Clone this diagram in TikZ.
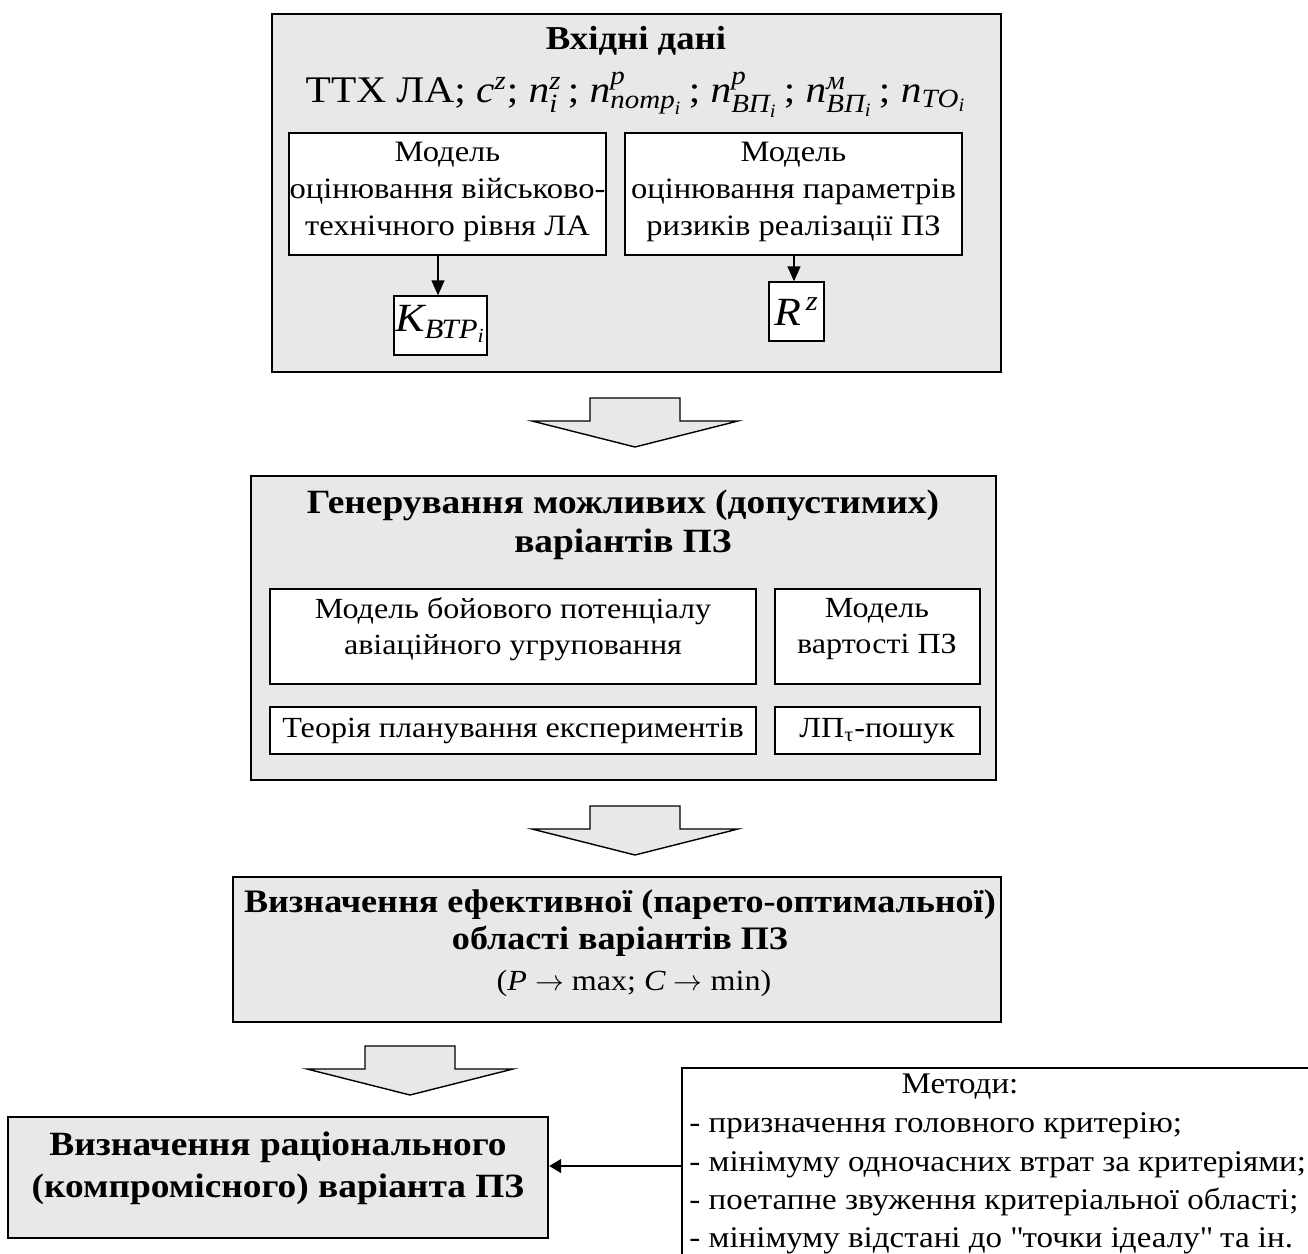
\documentclass[tikz,border=0pt]{standalone}
\usepackage{amsmath}
\usepackage{fontspec}
\setmainfont{Liberation Serif}[FakeStretch=1.1]
\usetikzlibrary{arrows.meta,fit}
\definecolor{boxgray}{RGB}{232,232,232}
\newcommand\ti[1]{\text{\itshape #1}}
\newcommand\blockarrow[2]{%
  \draw[barrow] (#1-45,#2) -- (#1+45,#2) -- (#1+45,#2+23) -- (#1+103,#2+23)
    -- (#1,#2+49) -- (#1-103,#2+23) -- (#1-45,#2+23) -- cycle;}
\begin{document}
\begin{tikzpicture}[x=0.5pt,y=-0.5pt,
  outerbox/.style={draw=black, line width=1.2pt, fill=boxgray, inner sep=0pt},
  innerbox/.style={draw=black, line width=0.7pt, fill=white, inner sep=0pt},
  barrow/.style={draw=black, line width=0.7pt, fill=boxgray, line join=miter},
  btitle/.style={font=\fontsize{17}{20}\selectfont\bfseries, inner sep=0pt, anchor=base},
  bodytext/.style={font=\fontsize{14.8}{18.5}\selectfont, align=center, inner sep=0pt},
  body2/.style={font=\fontsize{14.6}{18.2}\selectfont, align=center, inner sep=0pt},
  methtext/.style={font=\fontsize{15}{19.3}\selectfont, inner sep=0pt},
  conn/.style={-{Triangle[length=7.5pt,width=6.5pt]}, line width=0.7pt}]
\useasboundingbox (0,0) rectangle (1308,1254);

% ---------- top block ----------
\node[outerbox, fit={(272,14) (1001,372)}] (top) {};
\node[btitle, font=\fontsize{16.7}{20}\selectfont\bfseries] (toptitle) at (636,49) {Вхідні дані};
\node[font=\fontsize{18.8}{20}\selectfont, inner sep=0pt, anchor=base] (inputs) at (636,102)
  {ТТХ ЛА; $\ti{c}^{\ti{z}}$; $\ti{n}_{\ti{i}}^{\ti{z}}$\,; $\ti{n}^{\ti{p}}_{\ti{потр}_{\ti{i}}}$\,;
   $\ti{n}^{\ti{p}}_{\ti{ВП}_{\ti{i}}}$\,; $\ti{n}^{\ti{м}}_{\ti{ВП}_{\ti{i}}}$\,; $\ti{n}_{\ti{ТО}_{\ti{i}}}$};
\node[innerbox, fit={(289,133) (606,255)}] (mvtr) {};
\node[bodytext] (mvtrt) at (447.5,192) {Модель\\оцінювання військово-\\технічного рівня ЛА};
\node[innerbox, fit={(625,133) (962,255)}] (mrisk) {};
\node[bodytext] (mriskt) at (793.5,192) {Модель\\оцінювання параметрів\\ризиків реалізації ПЗ};
\node[innerbox, fit={(394,296) (487,355)}] (kbtr) {};
\node[font=\fontsize{20}{22}\selectfont, inner sep=0pt] (kbtrt) at (440.5,324) {$\ti{K}_{\ti{ВТР}_{\ti{i}}}$};
\node[innerbox, fit={(769,282) (824,341)}] (rz) {};
\node[font=\fontsize{20}{22}\selectfont, inner sep=0pt] (rzt) at (796.5,311.5) {$\ti{R}^{\,\ti{z}}$};
\coordinate (a1) at (438,0);
\coordinate (a2) at (794,0);
\draw[conn] (a1 |- mvtr.south) -- (a1 |- kbtr.north);
\draw[conn] (a2 |- mrisk.south) -- (a2 |- rz.north);

\blockarrow{635}{398}

% ---------- generation block ----------
\node[outerbox, fit={(251,476) (996,780)}] (gen) {};
\node[btitle] (gentitle1) at (623,513) {Генерування можливих (допустимих)};
\node[btitle] (gentitle2) at (623,552) {варіантів ПЗ};
\node[innerbox, fit={(270,589) (756,684)}] (mbp) {};
\node[body2] (mbpt) at (513,629) {Модель бойового потенціалу\\авіаційного угруповання};
\node[innerbox, fit={(775,589) (980,684)}] (mvp) {};
\node[body2] (mvpt) at (877,629) {Модель\\вартості ПЗ};
\node[innerbox, fit={(270,707) (756,754)}] (tpe) {};
\node[body2] (tpet) at (513,731) {Теорія планування експериментів};
\node[innerbox, fit={(775,707) (980,754)}] (lpt) {};
\node[body2] (lptt) at (877,731) {ЛП\textsubscript{τ}-пошук};

\blockarrow{635}{806}

% ---------- pareto block ----------
\node[outerbox, fit={(233,877) (1001,1022)}] (par) {};
\node[btitle, font=\fontsize{16.4}{20}\selectfont\bfseries] (partitle1) at (620,912) {Визначення ефективної (парето-оптимальної)};
\node[btitle, font=\fontsize{16.4}{20}\selectfont\bfseries] (partitle2) at (620,949) {області варіантів ПЗ};
\node[font=\fontsize{14.6}{16}\selectfont, inner sep=0pt, anchor=base] (parsub) at (634,990) {(\textit{P} $\rightarrow$ max; \textit{C} $\rightarrow$ min)};

\blockarrow{410}{1046}

% ---------- rational block ----------
\node[outerbox, fit={(8,1117) (548,1238)}] (rat) {};
\node[btitle] (rattitle1) at (278,1155) {Визначення раціонального};
\node[btitle] (rattitle2) at (278,1197) {(компромісного) варіанта ПЗ};

% ---------- methods ----------
\begin{scope}
\clip (0,0) rectangle (1308,1254);
\node[innerbox, fit={(682,1068) (1314,1262)}] (meth) {};
\end{scope}
\node[methtext, anchor=base] (methtitle) at (960,1093) {Методи:};
\node[methtext, anchor=base west] (meth1) at (689,1132) {- призначення головного критерію;};
\node[methtext, anchor=base west] (meth2) at (689,1171) {- мінімуму одночасних втрат за критеріями;};
\node[methtext, anchor=base west] (meth3) at (689,1209) {- поетапне звуження критеріальної області;};
\node[methtext, anchor=base west] (meth4) at (689,1247) {- мінімуму відстані до \textquotedbl точки ідеалу\textquotedbl\ та ін.};
\coordinate (a3) at (0,1166);
\draw[-{Triangle[length=6pt,width=7pt]}, line width=0.7pt] (a3 -| meth.west) -- (a3 -| rat.east);
\end{tikzpicture}
\end{document}
